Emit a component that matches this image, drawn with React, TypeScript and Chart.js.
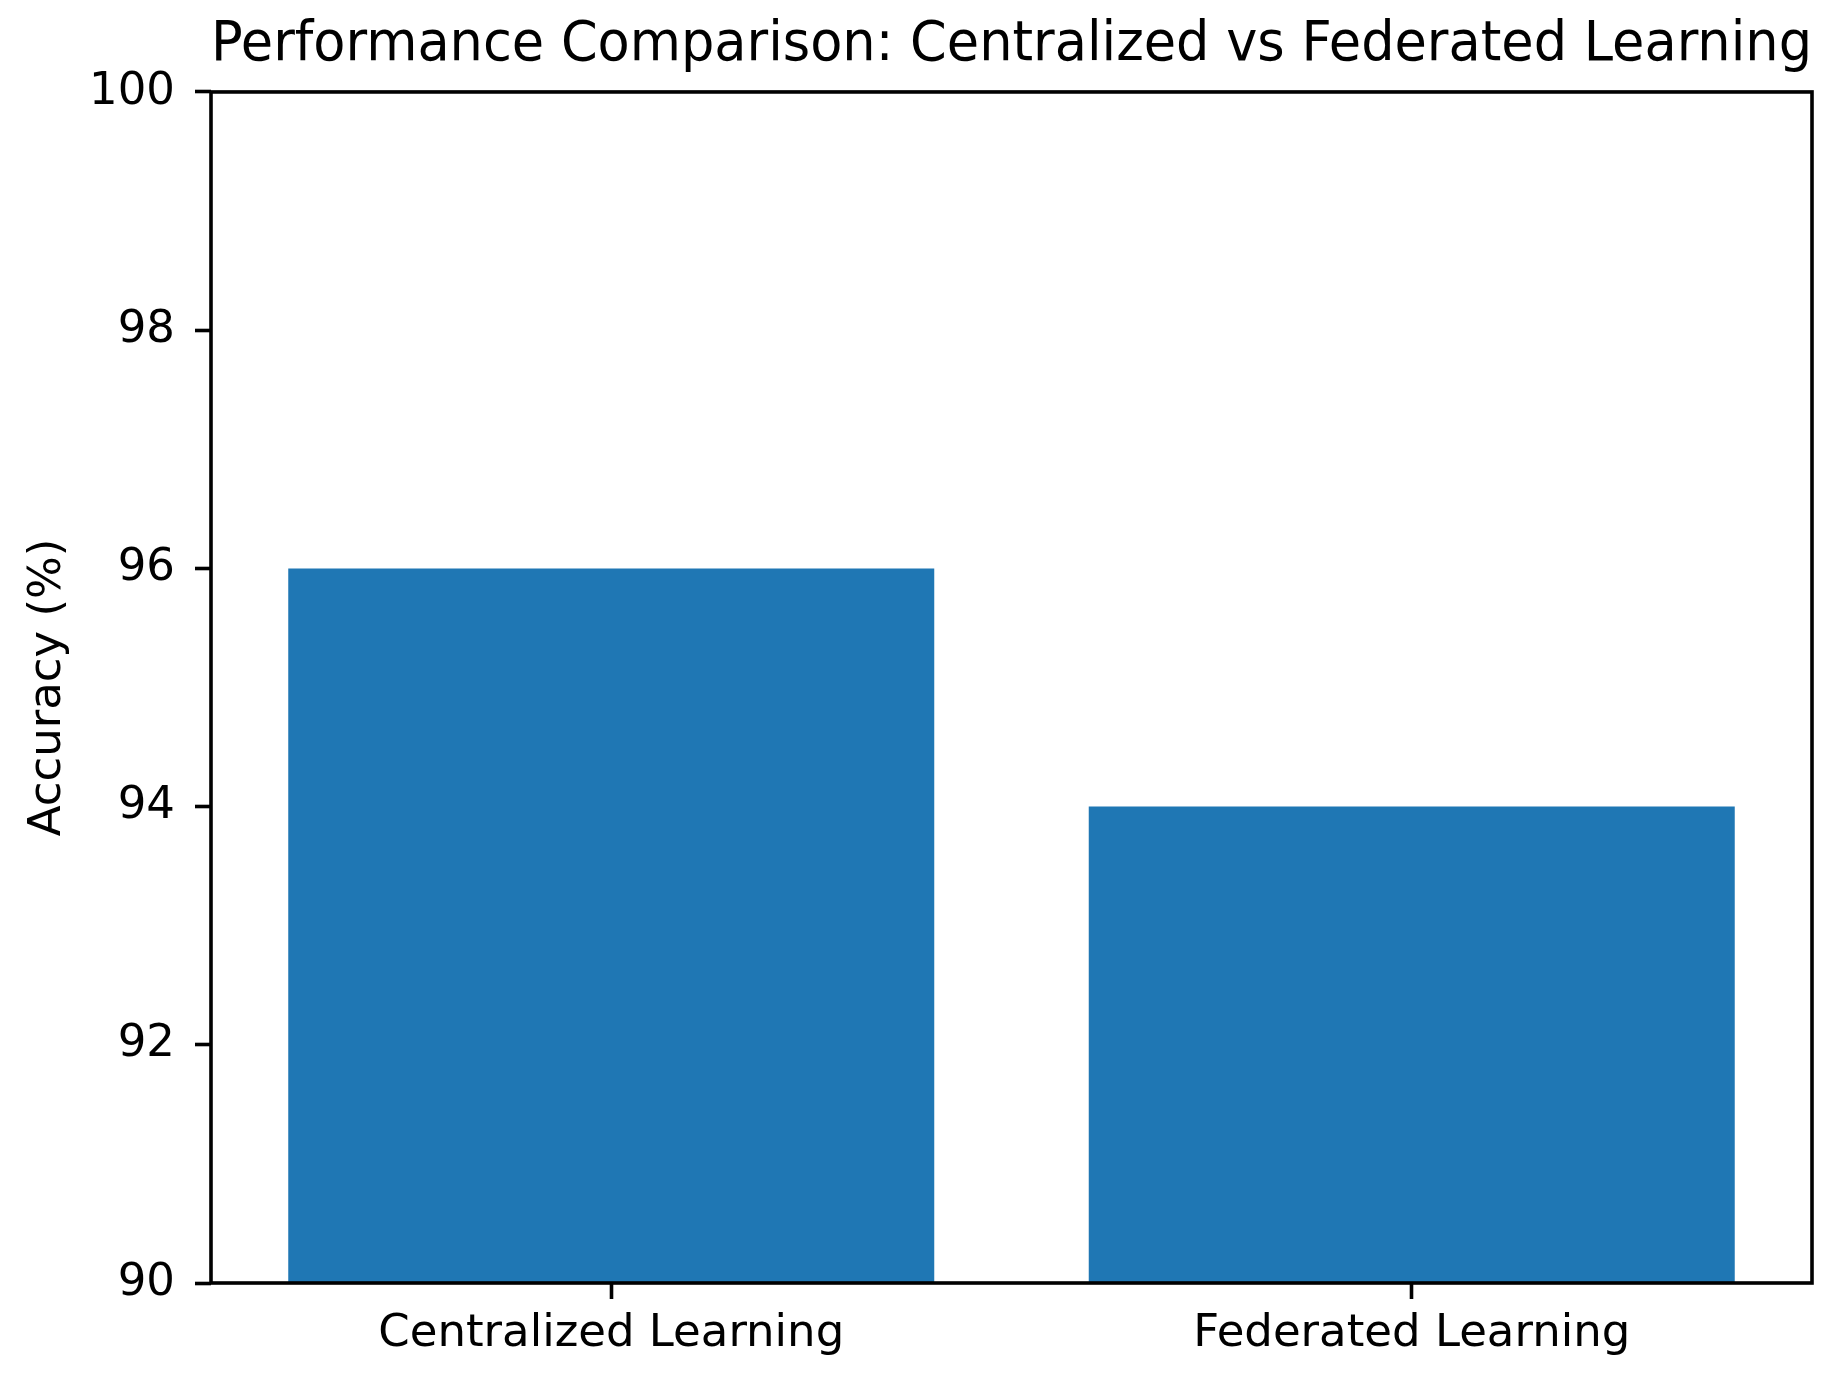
import { useEffect, useRef } from 'react';
import { Chart, registerables } from 'chart.js';

Chart.register(...registerables);

const categories = ['Centralized Learning', 'Federated Learning'];
const accuracy = [96, 94];
const yTicks = [90, 92, 94, 96, 98, 100];

const FONT = "'DejaVu Sans', sans-serif";

// matplotlib-style box round the plot area
const framePlugin = {
  id: 'frame',
  afterDatasetsDraw(chart: Chart) {
    const { ctx, chartArea } = chart;
    ctx.save();
    ctx.strokeStyle = '#000';
    ctx.lineWidth = 3.6;
    ctx.strokeRect(chartArea.left, chartArea.top, chartArea.right - chartArea.left, chartArea.bottom - chartArea.top);
    ctx.restore();
  },
};

const App: React.FC = () => {
  const canvasRef = useRef<HTMLCanvasElement | null>(null);

  useEffect(() => {
    document.body.style.margin = '0';
    if (!canvasRef.current) return;

    const chart = new Chart(canvasRef.current, {
      type: 'bar',
      data: {
        labels: categories,
        datasets: [
          {
            data: accuracy,
            backgroundColor: '#1f77b4',
            borderWidth: 0,
            barPercentage: 0.807,
            categoryPercentage: 1,
          },
        ],
      },
      options: {
        animation: false,
        responsive: true,
        maintainAspectRatio: false,
        layout: { padding: { top: 0, right: 28, bottom: 0, left: 0 } },
        plugins: {
          legend: { display: false },
          tooltip: { enabled: false },
          title: {
            display: true,
            fullSize: false,
            text: 'Performance Comparison: Centralized vs Federated Learning',
            color: '#000',
            font: { family: FONT, size: 54.3, weight: 'normal', lineHeight: 1.2 },
            padding: { top: 13, bottom: 13.8 },
          },
        },
        scales: {
          x: {
            offset: true,
            grid: {
              offset: false,
              drawOnChartArea: false,
              drawTicks: true,
              tickLength: 16,
              tickWidth: 3.6,
              tickColor: '#000',
            },
            border: { display: false },
            ticks: {
              color: '#000',
              padding: 8,
              maxRotation: 0,
              font: { family: FONT, size: 45 },
            },
            afterFit: (scale: any) => {
              scale.height = 93;
            },
          },
          y: {
            min: 90,
            max: 100,
            grid: {
              drawOnChartArea: false,
              drawTicks: true,
              tickLength: 16,
              tickWidth: 3.6,
              tickColor: '#000',
            },
            border: { display: false },
            afterBuildTicks: (scale: any) => {
              scale.ticks = yTicks.map((v) => ({ value: v }));
            },
            ticks: {
              color: '#000',
              padding: 20,
              font: { family: FONT, size: 45 },
            },
            title: {
              display: true,
              text: 'Accuracy (%)',
              color: '#000',
              font: { family: FONT, size: 45, lineHeight: 1.2 },
              padding: { top: 21, bottom: 0 },
            },
            afterFit: (scale: any) => {
              scale.width = 211;
            },
          },
        },
      },
      plugins: [framePlugin],
    });

    return () => {
      chart.destroy();
    };
  }, []);

  return (
    <div style={{ position: 'relative', width: '1840px', height: '1376px', background: '#fff' }}>
      <canvas ref={canvasRef}></canvas>
    </div>
  );
};

export default App;
